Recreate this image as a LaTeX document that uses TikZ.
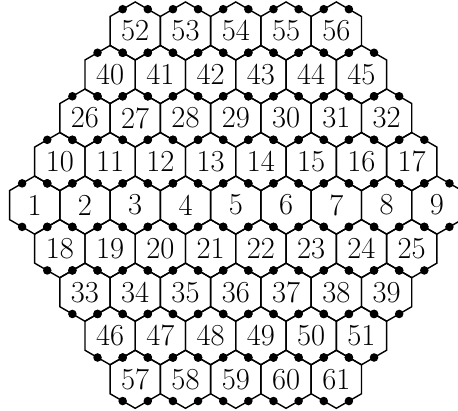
\documentclass[tikz,border=0pt]{standalone}
\usepackage{tikz}
\usetikzlibrary{shapes.geometric}

\begin{document}
\begin{tikzpicture}[
    cell/.style={draw, thick, regular polygon, regular polygon sides=6, shape border rotate=30,
        minimum size=1.1547cm, inner sep=0pt, outer sep=0pt, font=\LARGE},
    knob/.style={fill=black}
]
    \clip (-0.69,-4.08) rectangle (8.42,4.08);
    % rows from top to bottom: row index / first number
    \foreach \r/\first in {4/52,3/40,2/26,1/10,0/1,-1/18,-2/33,-3/46,-4/57} {
        \pgfmathtruncatemacro{\n}{9-abs(\r)}
        \foreach \i in {1,...,\n} {
            \pgfmathtruncatemacro{\k}{\first+\i-1}
            \node[cell] (h\k) at ({abs(\r)/2+\i-1}, {\r*0.866}) {\k};
        }
    }
    % dots on the slanted sides
    \foreach \k in {1,...,61}
        \foreach \a in {60,120,240,300}
            \fill[knob] (h\k.center) ++(\a:0.5) circle (0.085);
\end{tikzpicture}
\end{document}
